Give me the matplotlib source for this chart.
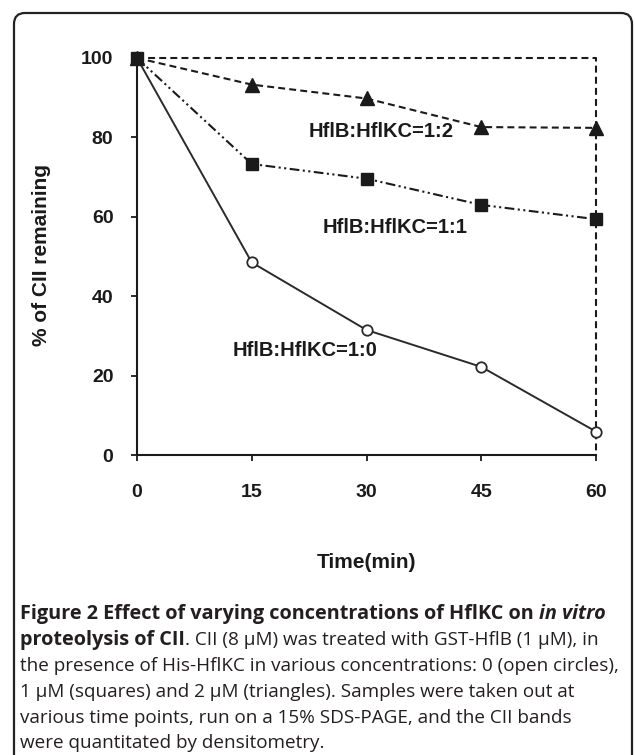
import matplotlib
matplotlib.use('Agg')
import matplotlib.pyplot as plt
from matplotlib.patches import FancyBboxPatch
from matplotlib.transforms import IdentityTransform

# data
time_min = [0, 15, 30, 45, 60]
ratio_1_0 = [100, 48.5, 31.5, 22.2, 5.9]   # open circles
ratio_1_1 = [100, 73.3, 69.6, 63.0, 59.4]  # squares
ratio_1_2 = [100, 93.3, 89.8, 82.6, 82.4]  # triangles
series_labels = ['HflB:HflKC=1:0', 'HflB:HflKC=1:1', 'HflB:HflKC=1:2']
x_ticks = [0, 15, 30, 45, 60]
y_ticks = [0, 20, 40, 60, 80, 100]

caption = [
    [('Figure 2 Effect of varying concentrations of HflKC on', 'bold', 'normal'),
     (' ', 'bold', 'normal'),
     ('in vitro', 'bold', 'italic')],
    [('proteolysis of CII', 'bold', 'normal'),
     ('. CII (8 μM) was treated with GST-HflB (1 μM), in', 'normal', 'normal')],
    [('the presence of His-HflKC in various concentrations: 0 (open circles),', 'normal', 'normal')],
    [('1 μM (squares) and 2 μM (triangles). Samples were taken out at', 'normal', 'normal')],
    [('various time points, run on a 15% SDS-PAGE, and the CII bands', 'normal', 'normal')],
    [('were quantitated by densitometry.', 'normal', 'normal')],
]

W, H = 635, 755
plt.rcParams['font.family'] = ['Liberation Sans', 'DejaVu Sans']
plt.rcParams['lines.scale_dashes'] = False

fig = plt.figure(figsize=(W / 100, H / 100), dpi=100)
ax = fig.add_axes([137 / W, 1 - 455 / H, (596 - 137) / W, (455 - 58) / H])

ink = '#1a1a1a'
# dashed frame (top at 100 and right at 60)
ax.plot([0, 60, 60], [100, 100, 0], color=ink, lw=1.5,
        dashes=(5, 3), clip_on=False, zorder=1)
ax.plot(time_min, ratio_1_0, color='#2a2a2a', lw=1.4, ls='-',
        marker='o', ms=7.5, mfc='white', mec='#2a2a2a', mew=1.3,
        clip_on=False, zorder=3)
ax.plot(time_min, ratio_1_2, color=ink, lw=1.5, dashes=(5, 3),
        marker='^', ms=10.5, mfc=ink, mec=ink, clip_on=False, zorder=4)
ax.plot(time_min, ratio_1_1, color=ink, lw=1.5,
        dashes=(7, 2.5, 1.5, 2.5, 1.5, 2.5),
        marker='s', ms=8.5, mfc=ink, mec=ink, clip_on=False, zorder=5)

# series labels
lab_font = dict(fontsize=14.5, fontweight='bold', ha='center', va='center', color=ink)
ax.text(22.0, 26.4, series_labels[0], **lab_font)
ax.text(33.7, 57.4, series_labels[1], **lab_font)
ax.text(31.9, 81.4, series_labels[2], **lab_font)

ax.set_xlim(0, 60)
ax.set_ylim(0, 100)
ax.set_xticks(x_ticks)
ax.set_yticks(y_ticks)
for s in ['top', 'right']:
    ax.spines[s].set_visible(False)
for s in ['left', 'bottom']:
    ax.spines[s].set_linewidth(1.5)
    ax.spines[s].set_color(ink)
ax.tick_params(direction='out', length=4, width=1.3, color=ink,
               labelsize=14, labelcolor=ink)
ax.tick_params(axis='x', pad=17)
ax.tick_params(axis='y', pad=13)
for lab in ax.get_xticklabels() + ax.get_yticklabels():
    lab.set_fontweight('bold')

fig.text(42 / W, 1 - 255 / H, '% of CII remaining', rotation=90,
         fontsize=15, fontweight='bold', ha='center', va='center', color=ink)
fig.text(367 / W, 1 - 563 / H, 'Time(min)',
         fontsize=15, fontweight='bold', ha='center', va='center', color=ink)

# rounded border round the panel
border = FancyBboxPatch((14, -20), 618, H - 13 + 20,
                        boxstyle='round,pad=0,rounding_size=11',
                        transform=IdentityTransform(), fill=False,
                        lw=1.6, edgecolor='#222222')
fig.add_artist(border)

# caption, written piece by piece so the styles can change mid line
renderer = fig.canvas.get_renderer()
cap_size = 13.6
bold_size = 14.3
line_y = [614, 640, 666, 692, 718, 743]
for segs, y in zip(caption, line_y):
    x = 20
    for text, weight, style in segs:
        size = bold_size if weight == 'bold' else cap_size
        t = fig.text(x / W, 1 - y / H, text, fontsize=size,
                     fontweight=weight, fontstyle=style,
                     family=['Open Sans', 'DejaVu Sans'],
                     ha='left', va='center', color='#231f20')
        if text == ' ':
            a = fig.text(0, 0, 'x x', fontsize=size, fontweight=weight, family='Open Sans')
            b = fig.text(0, 0, 'xx', fontsize=size, fontweight=weight, family='Open Sans')
            x += a.get_window_extent(renderer).width - b.get_window_extent(renderer).width
            a.remove()
            b.remove()
            t.remove()
        else:
            x += t.get_window_extent(renderer).width

fig.savefig('out.png', dpi=100)
